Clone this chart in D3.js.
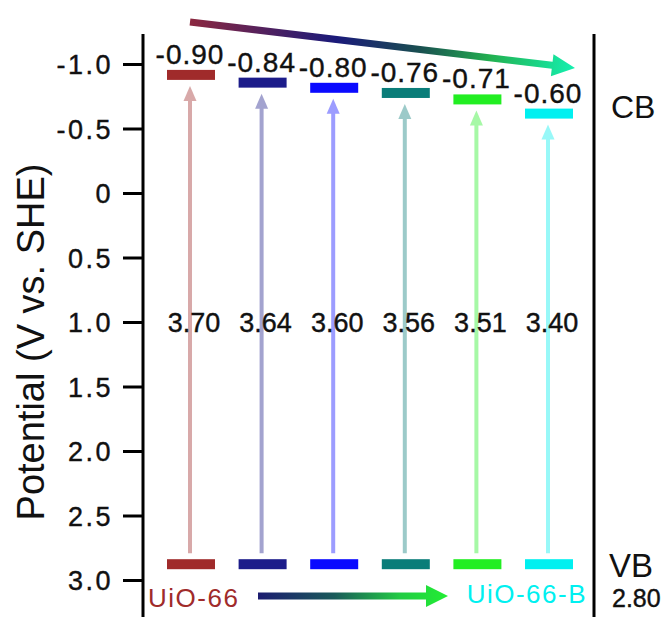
<!DOCTYPE html>
<html>
<head>
<meta charset="utf-8">
<script src="https://d3js.org/d3.v7.min.js"></script>
<style>
  body { margin: 0; background: #fff; }
  text { font-family: "Liberation Sans", Arial, sans-serif; }
  .num { stroke: #111; stroke-width: 0.4px; }
</style>
</head>
<body>
<svg width="668" height="617"></svg>
<script>
// band edges of each sample (CB / VB, V vs. SHE) and band gaps (eV)
var samples = ["UiO-66", "S2", "S3", "S4", "S5", "UiO-66-B"];
var cbValues = [-0.90, -0.84, -0.80, -0.76, -0.71, -0.60];
var gapValues = [3.70, 3.64, 3.60, 3.56, 3.51, 3.40];
var vbValues = [2.80, 2.80, 2.80, 2.80, 2.80, 2.80];
var yTicks = [-1.0, -0.5, 0, 0.5, 1.0, 1.5, 2.0, 2.5, 3.0];

var barColors = ["#a02b2b", "#1c1c8a", "#0a0aff", "#0a7d79", "#22ee22", "#00f0f0"];

var svg = d3.select("svg");

var x = d3.scalePoint().domain(samples).range([191, 549]);
var y = d3.scaleLinear().domain([-1, 3]).range([64, 580]);

// plain hyphen instead of the unicode minus d3 uses
function fmt(spec) {
  var f = d3.format(spec);
  return function(v) { return f(v).replace("\u2212", "-"); };
}

var rows = samples.map(function(s, i) {
  return { name: s, cb: cbValues[i], vb: vbValues[i], gap: gapValues[i], color: barColors[i] };
});

var defs = svg.append("defs");

/** left axis **/
var yaxis = d3.axisLeft(y).tickValues(yTicks)
  .tickSize(20).tickPadding(10)
  .tickFormat(function(d) { return d === 0 ? "0" : fmt(".1f")(d); });

var gy = svg.append("g").attr("transform", "translate(143,0)").call(yaxis);
gy.select(".domain").remove();
gy.selectAll("line").attr("stroke", "#000").attr("stroke-width", 3);
gy.selectAll("text")
  .attr("class", "num")
  .style("font-size", "27px")
  .style("letter-spacing", "2.5px")
  .style("font-family", "Liberation Sans, Arial, sans-serif")
  .attr("fill", "#111")
  .attr("dy", "0.36em");

svg.append("line").attr("x1", 143).attr("x2", 143).attr("y1", 34).attr("y2", 617)
  .attr("stroke", "#000").attr("stroke-width", 3);
svg.append("line").attr("x1", 594).attr("x2", 594).attr("y1", 34).attr("y2", 617)
  .attr("stroke", "#000").attr("stroke-width", 3);

svg.append("text")
  .attr("transform", "translate(44," + 342 + ") rotate(-90)")
  .attr("text-anchor", "middle")
  .style("font-size", "38px")
  .attr("fill", "#111")
  .text("Potential (V vs. SHE)");

/** excitation arrows **/
var arrows = svg.append("g").selectAll("g").data(rows).enter().append("g")
  .attr("opacity", 0.4);
arrows.append("line")
  .attr("x1", function(d) { return x(d.name) - 1; })
  .attr("x2", function(d) { return x(d.name) - 1; })
  .attr("y1", function(d) { return y(d.vb) - 1; })
  .attr("y2", function(d) { return y(d.cb) + 22; })
  .attr("stroke", function(d) { return d.color; })
  .attr("stroke-width", 4);
arrows.append("path")
  .attr("d", function(d) {
    var cx = x(d.name) - 1, tip = y(d.cb) + 9;
    return "M" + cx + "," + tip + "L" + (cx - 6.5) + "," + (tip + 15) + "L" + (cx + 6.5) + "," + (tip + 15) + "Z";
  })
  .attr("fill", function(d) { return d.color; });

/** CB and VB levels **/
svg.selectAll("rect.cb").data(rows).enter().append("rect")
  .attr("class", "cb")
  .attr("x", function(d) { return x(d.name) - 24; })
  .attr("y", function(d) { return y(d.cb) - 7; })
  .attr("width", 48).attr("height", 10)
  .attr("fill", function(d) { return d.color; });

svg.selectAll("rect.vb").data(rows).enter().append("rect")
  .attr("class", "vb")
  .attr("x", function(d) { return x(d.name) - 24; })
  .attr("y", function(d) { return y(d.vb) + 5; })
  .attr("width", 48).attr("height", 10)
  .attr("fill", function(d) { return d.color; });

svg.selectAll("text.cbl").data(rows).enter().append("text")
  .attr("class", "cbl num")
  .attr("x", function(d) { return x(d.name) - 1; })
  .attr("y", function(d) { return y(d.cb) - 13; })
  .attr("text-anchor", "middle")
  .style("font-size", "28px")
  .style("letter-spacing", "1px")
  .attr("fill", "#111")
  .text(function(d) { return fmt(".2f")(d.cb); });

svg.selectAll("text.gap").data(rows).enter().append("text")
  .attr("class", "gap num")
  .attr("x", function(d) { return x(d.name) + 3; })
  .attr("y", y(1.0) + 10)
  .attr("text-anchor", "middle")
  .style("font-size", "27px")
  .attr("fill", "#111")
  .text(function(d) { return fmt(".2f")(d.gap); });

/** side labels **/
svg.append("text").attr("x", 611).attr("y", 118).style("font-size", "32px").attr("fill", "#111").text("CB");
svg.append("text").attr("x", 609).attr("y", 577).style("font-size", "33px").attr("fill", "#111").text("VB");
svg.append("text").attr("class", "num").attr("x", 612).attr("y", 607).style("font-size", "25px").attr("fill", "#111")
  .text(fmt(".2f")(vbValues[0]));

svg.append("text").attr("x", 148).attr("y", 607).style("font-size", "26px").style("letter-spacing", "1.5px")
  .attr("fill", barColors[0]).text(samples[0]);
svg.append("text").attr("x", 587).attr("y", 603).attr("text-anchor", "end")
  .style("font-size", "26px").style("letter-spacing", "1.5px")
  .attr("fill", barColors[5]).text(samples[5]);

/** trend arrows **/
var gTop = defs.append("linearGradient").attr("id", "gTop")
  .attr("gradientUnits", "userSpaceOnUse")
  .attr("x1", 190).attr("y1", 22).attr("x2", 575).attr("y2", 68);
[[0, "#8c2840"], [0.38, "#1a1a7a"], [0.6, "#1a5050"], [0.78, "#22b050"], [1, "#14f0b0"]].forEach(function(s) {
  gTop.append("stop").attr("offset", s[0]).attr("stop-color", s[1]);
});
var gBot = defs.append("linearGradient").attr("id", "gBot")
  .attr("gradientUnits", "userSpaceOnUse")
  .attr("x1", 258).attr("y1", 0).attr("x2", 448).attr("y2", 0);
[[0, "#1c1c70"], [0.4, "#1a5a5a"], [0.75, "#22cc44"], [1, "#22ee33"]].forEach(function(s) {
  gBot.append("stop").attr("offset", s[0]).attr("stop-color", s[1]);
});

function arrowPath(x0, y0, x1, y1, w, hl, hw) {
  var dx = x1 - x0, dy = y1 - y0, len = Math.sqrt(dx * dx + dy * dy);
  var ux = dx / len, uy = dy / len, nx = -uy, ny = ux;
  var bx = x1 - ux * hl, by = y1 - uy * hl;
  var p = [
    [x0 + nx * w / 2, y0 + ny * w / 2],
    [bx + nx * w / 2, by + ny * w / 2],
    [bx + nx * hw / 2, by + ny * hw / 2],
    [x1, y1],
    [bx - nx * hw / 2, by - ny * hw / 2],
    [bx - nx * w / 2, by - ny * w / 2],
    [x0 - nx * w / 2, y0 - ny * w / 2]
  ];
  return "M" + p.map(function(q) { return q.join(","); }).join("L") + "Z";
}

svg.append("path").attr("d", arrowPath(x(samples[0]) - 1, 22, x(samples[5]) + 26, 68, 7, 23, 22))
  .attr("fill", "url(#gTop)");
svg.append("path").attr("d", arrowPath(258, 596, 448, 596, 7, 22, 22))
  .attr("fill", "url(#gBot)");
</script>
</body>
</html>
